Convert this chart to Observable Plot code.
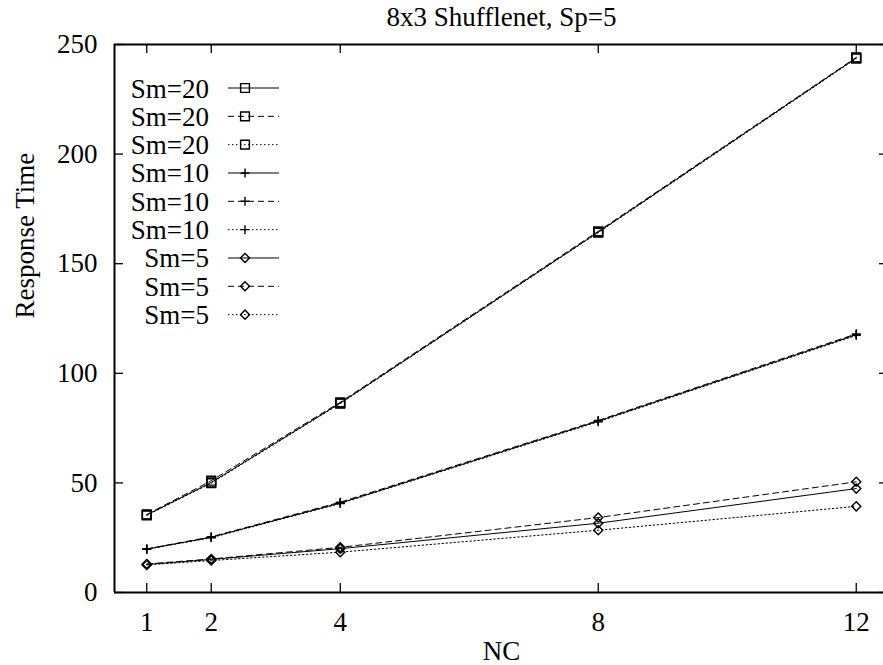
<!DOCTYPE html>
<html><head><meta charset="utf-8">
<script src="https://cdn.jsdelivr.net/npm/d3@7"></script>
<script src="https://cdn.jsdelivr.net/npm/@observablehq/plot@0.6"></script>
</head><body style="margin:0;background:#fff">
<div id="chart"></div>
<script>
// ---- data ----
const nc = [1, 2, 4, 8, 12];
const seriesLabels = ["Sm=20", "Sm=20", "Sm=20", "Sm=10", "Sm=10", "Sm=10", "Sm=5", "Sm=5", "Sm=5"];
const sm20a = [35.4, 50.2, 86.4, 164.4, 243.9];
const sm20b = [35.6, 51.0, 86.8, 164.8, 244.1];
const sm20c = [35.2, 49.9, 86.2, 164.2, 243.6];
const sm10a = [19.8, 25.2, 40.8, 78.2, 117.6];
const sm10b = [19.9, 25.4, 41.2, 78.5, 118.0];
const sm10c = [19.7, 25.0, 40.6, 77.9, 117.3];
const sm5a = [12.8, 15.1, 20.0, 31.6, 47.4];
const sm5b = [13.0, 15.3, 20.6, 34.2, 50.5];
const sm5c = [12.6, 14.6, 18.4, 28.4, 39.3];
const yTicks = [0, 50, 100, 150, 200, 250];
const xTicks = [1, 2, 4, 8, 12];
const titleText = "8x3 Shufflenet, Sp=5";
const xLabel = "NC";
const yLabel = "Response Time";

// ---- styles ----
const seriesValues = [sm20a, sm20b, sm20c, sm10a, sm10b, sm10c, sm5a, sm5b, sm5c];
const dashes = [null, "6,4", "1.5,2.5"];
const symbolNames = ["square2", "plus", "diamond2"];
const symbolTypes = [d3.symbolSquare2, d3.symbolPlus, d3.symbolDiamond2];
const symbolR = [5.6, 3.0, 4.1];

const rows = seriesValues.flatMap((vals, s) =>
  vals.map((v, i) => ({series: s, label: seriesLabels[s], nc: nc[i], rt: v, dash: s % 3, sym: Math.floor(s / 3)})));

const W = 883, H = 665, mL = 114, mT = 44, mR = -5, mB = 73;
const frameW = W - mR - mL, frameH = H - mB - mT;
const FONT = "Times New Roman";
const FS = 27;

function legend() {
  const g = d3.create("svg:g").attr("font-family", FONT).attr("font-size", FS);
  seriesLabels.forEach((lab, i) => {
    const ly = 88 + 28.33 * i;
    g.append("text").attr("x", 209).attr("y", ly + 9.5).attr("text-anchor", "end").attr("fill", "black").text(lab);
    g.append("line").attr("x1", 228).attr("x2", 279).attr("y1", ly).attr("y2", ly)
      .attr("stroke", "black").attr("stroke-width", 1).attr("stroke-dasharray", dashes[i % 3]);
    const k = Math.floor(i / 3);
    g.append("path").attr("transform", `translate(245,${ly})`)
      .attr("d", d3.symbol(symbolTypes[k], Math.PI * symbolR[k] * symbolR[k])())
      .attr("fill", "none").attr("stroke", "black").attr("stroke-width", 1.4);
  });
  return g.node();
}

const marks = [
  Plot.ruleY([0, 250], {strokeWidth: 2}),
  Plot.ruleX([0.5], {strokeWidth: 2}),
  Plot.tickY(yTicks, {insetRight: frameW - 9, strokeWidth: 1.3}),
  Plot.tickY(yTicks, {insetLeft: frameW - 9, strokeWidth: 1.3}),
  Plot.tickX(xTicks, {insetTop: frameH - 9, strokeWidth: 1.3}),
  Plot.tickX(xTicks, {insetBottom: frameH - 9, strokeWidth: 1.3}),
  Plot.axisY({ticks: yTicks, tickSize: 0, tickPadding: 17, label: null, fontSize: FS, fontFamily: FONT}),
  Plot.axisX({ticks: xTicks, tickSize: 0, tickPadding: 19, label: null, fontSize: FS, fontFamily: FONT}),
  ...dashes.map((d, k) => Plot.line(rows.filter(r => r.dash === k),
    {x: "nc", y: "rt", z: "series", stroke: "black", strokeWidth: 1, strokeDasharray: d})),
  ...symbolNames.map((s, k) => Plot.dot(rows.filter(r => r.sym === k),
    {x: "nc", y: "rt", symbol: s, r: symbolR[k], stroke: "black", strokeWidth: 1.4, fill: "none"})),
  Plot.text([titleText], {frameAnchor: "top", dy: -18.3, lineAnchor: "bottom", fontSize: FS, fontFamily: FONT, fill: "black"}),
  Plot.text([xLabel], {frameAnchor: "bottom", dy: 67, lineAnchor: "bottom", fontSize: FS, fontFamily: FONT, fill: "black"}),
  Plot.text([yLabel], {frameAnchor: "left", dx: -81, rotate: -90, lineAnchor: "bottom", fontSize: FS, fontFamily: FONT, fill: "black"}),
  legend
];

const chart = Plot.plot({
  width: W, height: H,
  marginLeft: mL, marginTop: mT, marginRight: mR, marginBottom: mB,
  x: {type: "linear", domain: [0.5, 12.5]},
  y: {type: "linear", domain: [0, 250]},
  style: {fontFamily: FONT, fontSize: FS + "px", background: "white", color: "black"},
  marks
});
document.getElementById("chart").appendChild(chart);
</script>
</body></html>
